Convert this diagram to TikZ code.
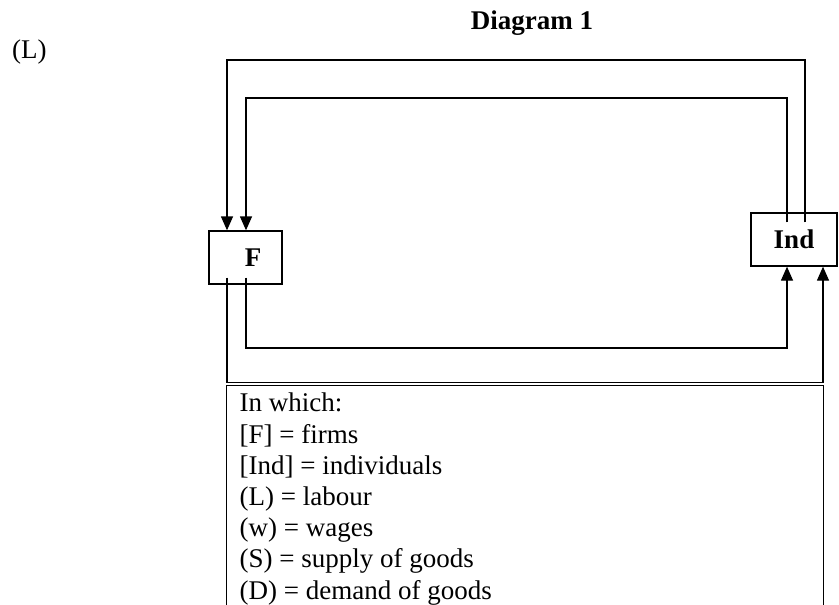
\documentclass[tikz,border=0pt]{standalone}
\usepackage{fontspec}
\setmainfont{Liberation Serif}
\usetikzlibrary{arrows.meta,calc}

\begin{document}
\begin{tikzpicture}[x=1pt, y=-1pt, >={Triangle[length=14pt,width=12pt]},
  texto/.style={font=\fontsize{27}{31.2}\selectfont},
  negrito/.style={font=\fontsize{27}{31.2}\selectfont\bfseries},
  caixa/.style={draw, line width=1.3pt, inner sep=0pt, negrito},
  fio/.style={line width=1.3pt}]
  \useasboundingbox (0,0) rectangle (839,605);

  % Titulos
  \node[negrito, anchor=base] (titulo) at (532,29) {Diagram 1};
  \node[texto, anchor=base west, inner sep=0pt] (rotulo) at (12,58) {(L)};

  % Caixas
  \node[caixa, minimum width=73pt, minimum height=53pt] (F) at (245.5,257.5) {\hspace*{15pt}F};
  \node[caixa, minimum width=86pt, minimum height=53pt] (Ind) at (794,239.5) {Ind};
  \node[draw, line width=1.3pt, texto, anchor=north west, inner xsep=13pt, inner ysep=8pt] (legenda) at (226,384.5)
    {\parbox[t][250pt][t]{571pt}{In which:\\
      {[F]} = firms\\
      {[Ind]} = individuals\\
      (L) = labour\\
      (w) = wages\\
      (S) = supply of goods\\
      (D) = demand of goods}};

  % Colunas e linhas dos fluxos
  \coordinate (xa) at (227,0);
  \coordinate (xb) at (246,0);
  \coordinate (xc) at (787,0);
  \coordinate (xd) at (805,0);
  \coordinate (xe) at (823,0);
  \coordinate (ya) at (0,60);
  \coordinate (yb) at (0,98);
  \coordinate (yc) at (0,348);
  \coordinate (yd) at (0,382.5);

  % Fluxos de cima
  \draw[fio, ->] ($(xd |- Ind.north)+(0,10)$) -- (xd |- ya) -- (xa |- ya) -- (xa |- F.north);
  \draw[fio, ->] ($(xc |- Ind.north)+(0,10)$) -- (xc |- yb) -- (xb |- yb) -- (xb |- F.north);

  % Fluxos de baixo
  \draw[fio, ->] ($(xb |- F.south)+(0,-7)$) -- (xb |- yc) -- (xc |- yc) -- (xc |- Ind.south);
  \draw[fio, ->] ($(xa |- F.south)+(0,-7)$) -- (xa |- yd) -- (xe |- yd) -- (xe |- Ind.south);
\end{tikzpicture}
\end{document}
